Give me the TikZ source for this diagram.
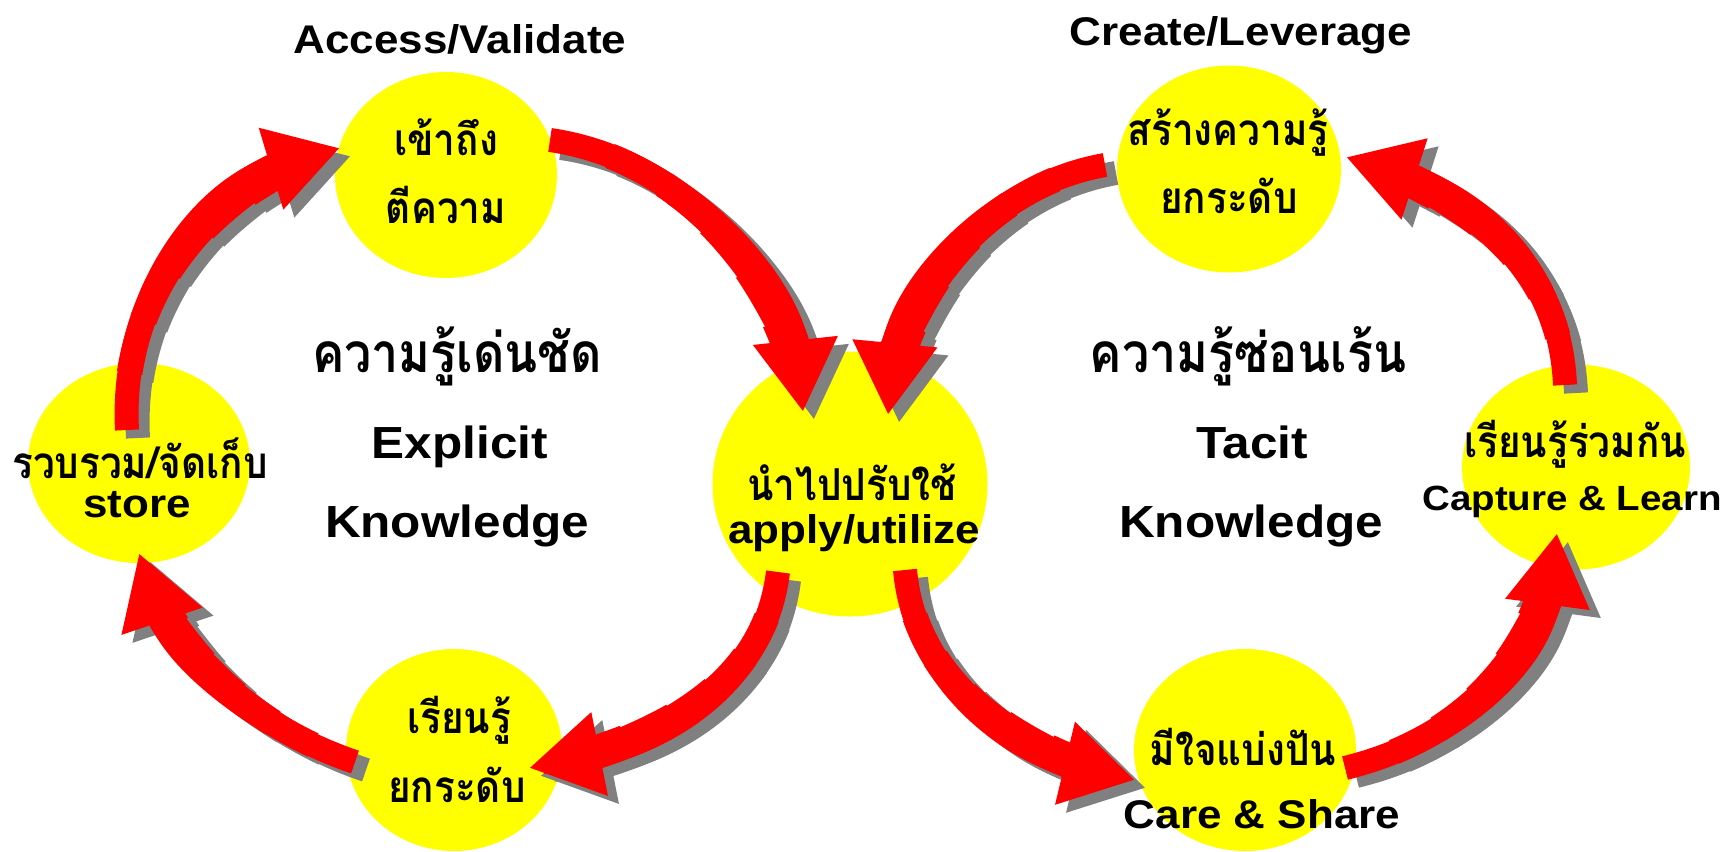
\documentclass[tikz,border=0pt]{standalone}
\usepackage{fontspec}
\setmainfont{Liberation Sans}[FakeStretch=1.1]
\newfontfamily\thai{Loma}[Script=Thai,FakeStretch=0.88]
\usetikzlibrary{arrows.meta,shapes.geometric,calc}
\definecolor{kmyellow}{RGB}{255,255,0}
\definecolor{kmred}{RGB}{255,0,0}
\definecolor{kmgray}{RGB}{128,128,128}
% part of a curve (#2s .. #2a .. #2b .. #2e) from parameter #3 to its end, colour #1, width #4
\newcommand{\kmseg}[5]{%
  \pgfmathsetmacro\kma{(1-#3)^3}\pgfmathsetmacro\kmb{3*#3*(1-#3)^2}%
  \pgfmathsetmacro\kmc{3*#3*#3*(1-#3)}\pgfmathsetmacro\kmd{#3*#3*#3}%
  \pgfmathsetmacro\kme{(1-#3)^2}\pgfmathsetmacro\kmf{2*#3*(1-#3)}%
  \pgfmathsetmacro\kmg{#3*#3}\pgfmathsetmacro\kmh{1-#3}%
  \draw[draw=#1, line width=#4, #5]
    ($\kma*(#2s)+\kmb*(#2a)+\kmc*(#2b)+\kmd*(#2e)$)
    .. controls ($\kme*(#2a)+\kmf*(#2b)+\kmg*(#2e)$) and ($\kmh*(#2b)+#3*(#2e)$) .. (#2e);
}
% tapered curved arrow: #1 colour, #2 prefix of coordinates (s, a, b, e)
\newcommand{\kmarrow}[2]{%
  \kmseg{#1}{#2}{0}{12pt}{shorten >=34pt}%
  \kmseg{#1}{#2}{0.15}{12.8pt}{shorten >=34pt}%
  \kmseg{#1}{#2}{0.3}{13.6pt}{shorten >=34pt}%
  \kmseg{#1}{#2}{0.45}{14.4pt}{shorten >=34pt}%
  \kmseg{#1}{#2}{0.6}{15.2pt}{shorten >=34pt}%
  \kmseg{#1}{#2}{0.75}{16pt}{-{Triangle[length=36pt,width=40pt]}}%
}
\begin{document}
\begin{tikzpicture}[x=0.5pt,y=-0.5pt,
  blob/.style={ellipse, fill=kmyellow, inner sep=0pt},
  en/.style={font=\bfseries\fontsize{20pt}{24pt}\selectfont, anchor=base, inner sep=0pt},
  th/.style={font=\thai\bfseries\fontsize{22pt}{26pt}\selectfont, anchor=base, inner sep=0pt, text depth=0pt},
  big/.style={font=\bfseries\fontsize{22.5pt}{26pt}\selectfont, anchor=base, inner sep=0pt},
  bigth/.style={font=\thai\bfseries\fontsize{27.5pt}{32pt}\selectfont, anchor=base, inner sep=0pt}]
\fill[white] (0,0) rectangle (1727,851);
\path[use as bounding box] (0,0) rectangle (1727,851);

% circles
\node[blob, minimum width=222*0.5pt, minimum height=206*0.5pt] (tl) at (446,175) {};
\node[blob, minimum width=224*0.5pt, minimum height=207*0.5pt] (tr) at (1229,169) {};
\node[blob, minimum width=222*0.5pt, minimum height=200*0.5pt] (lf) at (139,463) {};
\node[blob, minimum width=275*0.5pt, minimum height=265*0.5pt] (ct) at (850,484) {};
\node[blob, minimum width=216*0.5pt, minimum height=202*0.5pt] (bl) at (454,750) {};
\node[blob, minimum width=228*0.5pt, minimum height=205*0.5pt] (rt) at (1576,467) {};
\node[blob, minimum width=222*0.5pt, minimum height=202*0.5pt] (br) at (1245,750) {};

% arrow geometry: start (s), controls (a, b), tip (e)
\coordinate (p1s) at ([shift={(-12,-33)}]lf.center);
\coordinate (p1a) at (120,300); \coordinate (p1b) at (200,190);
\coordinate (p1e) at ([shift={(-106,-27)}]tl.center);
\coordinate (p2s) at ([shift={(104,-35)}]tl.center);
\coordinate (p2a) at (690,160); \coordinate (p2b) at (790,290);
\coordinate (p2e) at ([shift={(-47,-72)}]ct.center);
\coordinate (p3s) at ([shift={(-124,-4)}]tr.center);
\coordinate (p3a) at (990,185); \coordinate (p3b) at (900,290);
\coordinate (p3e) at ([shift={(38,-69)}]ct.center);
\coordinate (p4s) at ([shift={(-72,88)}]ct.center);
\coordinate (p4a) at (765,680); \coordinate (p4b) at (670,740);
\coordinate (p4e) at ([shift={(75,18)}]bl.center);
\coordinate (p5s) at ([shift={(-99,12)}]bl.center);
\coordinate (p5a) at (260,730); \coordinate (p5b) at (175,660);
\coordinate (p5e) at ([shift={(0,90)}]lf.center);
\coordinate (p6s) at ([shift={(55,86)}]ct.center);
\coordinate (p6a) at (915,680); \coordinate (p6b) at (1010,750);
\coordinate (p6e) at ([shift={(-110,30)}]br.center);
\coordinate (p7s) at ([shift={(100,18)}]br.center);
\coordinate (p7a) at (1460,740); \coordinate (p7b) at (1540,660);
\coordinate (p7e) at ([shift={(-19,66)}]rt.center);
\coordinate (p8s) at ([shift={(-11,-82)}]rt.center);
\coordinate (p8a) at (1560,270); \coordinate (p8b) at (1480,200);
\coordinate (p8e) at ([shift={(117,-12)}]tr.center);

% shadows
\begin{scope}[transform canvas={shift={(5.5pt,-4pt)}}]
  \foreach \k in {p1,p2,p3,p4,p5,p6,p7,p8} {\kmarrow{kmgray}{\k}}
\end{scope}
% arrows
\foreach \k in {p1,p2,p3,p4,p5,p6,p7,p8} {\kmarrow{kmred}{\k}}

% titles
\node[en] (ttl) at (460,53) {Access/Validate};
\node[en] (ttr) at (1241,45) {Create/Leverage};

% circle texts
\node[th] (tla) at (446,155) {เข้าถึง};
\node[th] (tlb) at (446,223) {ตีความ};
\node[th] (tra) at (1228,145) {สร้างความรู้};
\node[th] (trb) at (1229,213) {ยกระดับ};
\node[th] (lfa) at (140,478) {รวบรวม/จัดเก็บ};
\node[en] (lfb) at (137,517) {store};
\node[th] (bla) at (459,733) {เรียนรู้};
\node[th] (blb) at (457,802) {ยกระดับ};
\node[th] (cta) at (852,500) {นำไปปรับใช้};
\node[en] (ctb) at (854,543) {apply/utilize};
\node[th] (rta) at (1575,457) {เรียนรู้ร่วมกัน};
\node[en, font=\bfseries\fontsize{17.5pt}{21pt}\selectfont] (rtb) at (1572,510) {Capture \& Learn};
\node[th] (bra) at (1243,765) {มีใจแบ่งปัน};
\node[en] (brb) at (1262,828) {Care \& Share};

% centre texts
\node[bigth] (exa) at (457,372) {ความรู้เด่นชัด};
\node[big] (exb) at (460,458) {Explicit};
\node[big] (exc) at (457,537) {Knowledge};
\node[bigth] (tca) at (1248,372) {ความรู้ซ่อนเร้น};
\node[big] (tcb) at (1252,458) {Tacit};
\node[big] (tcc) at (1251,537) {Knowledge};
\end{tikzpicture}
\end{document}
